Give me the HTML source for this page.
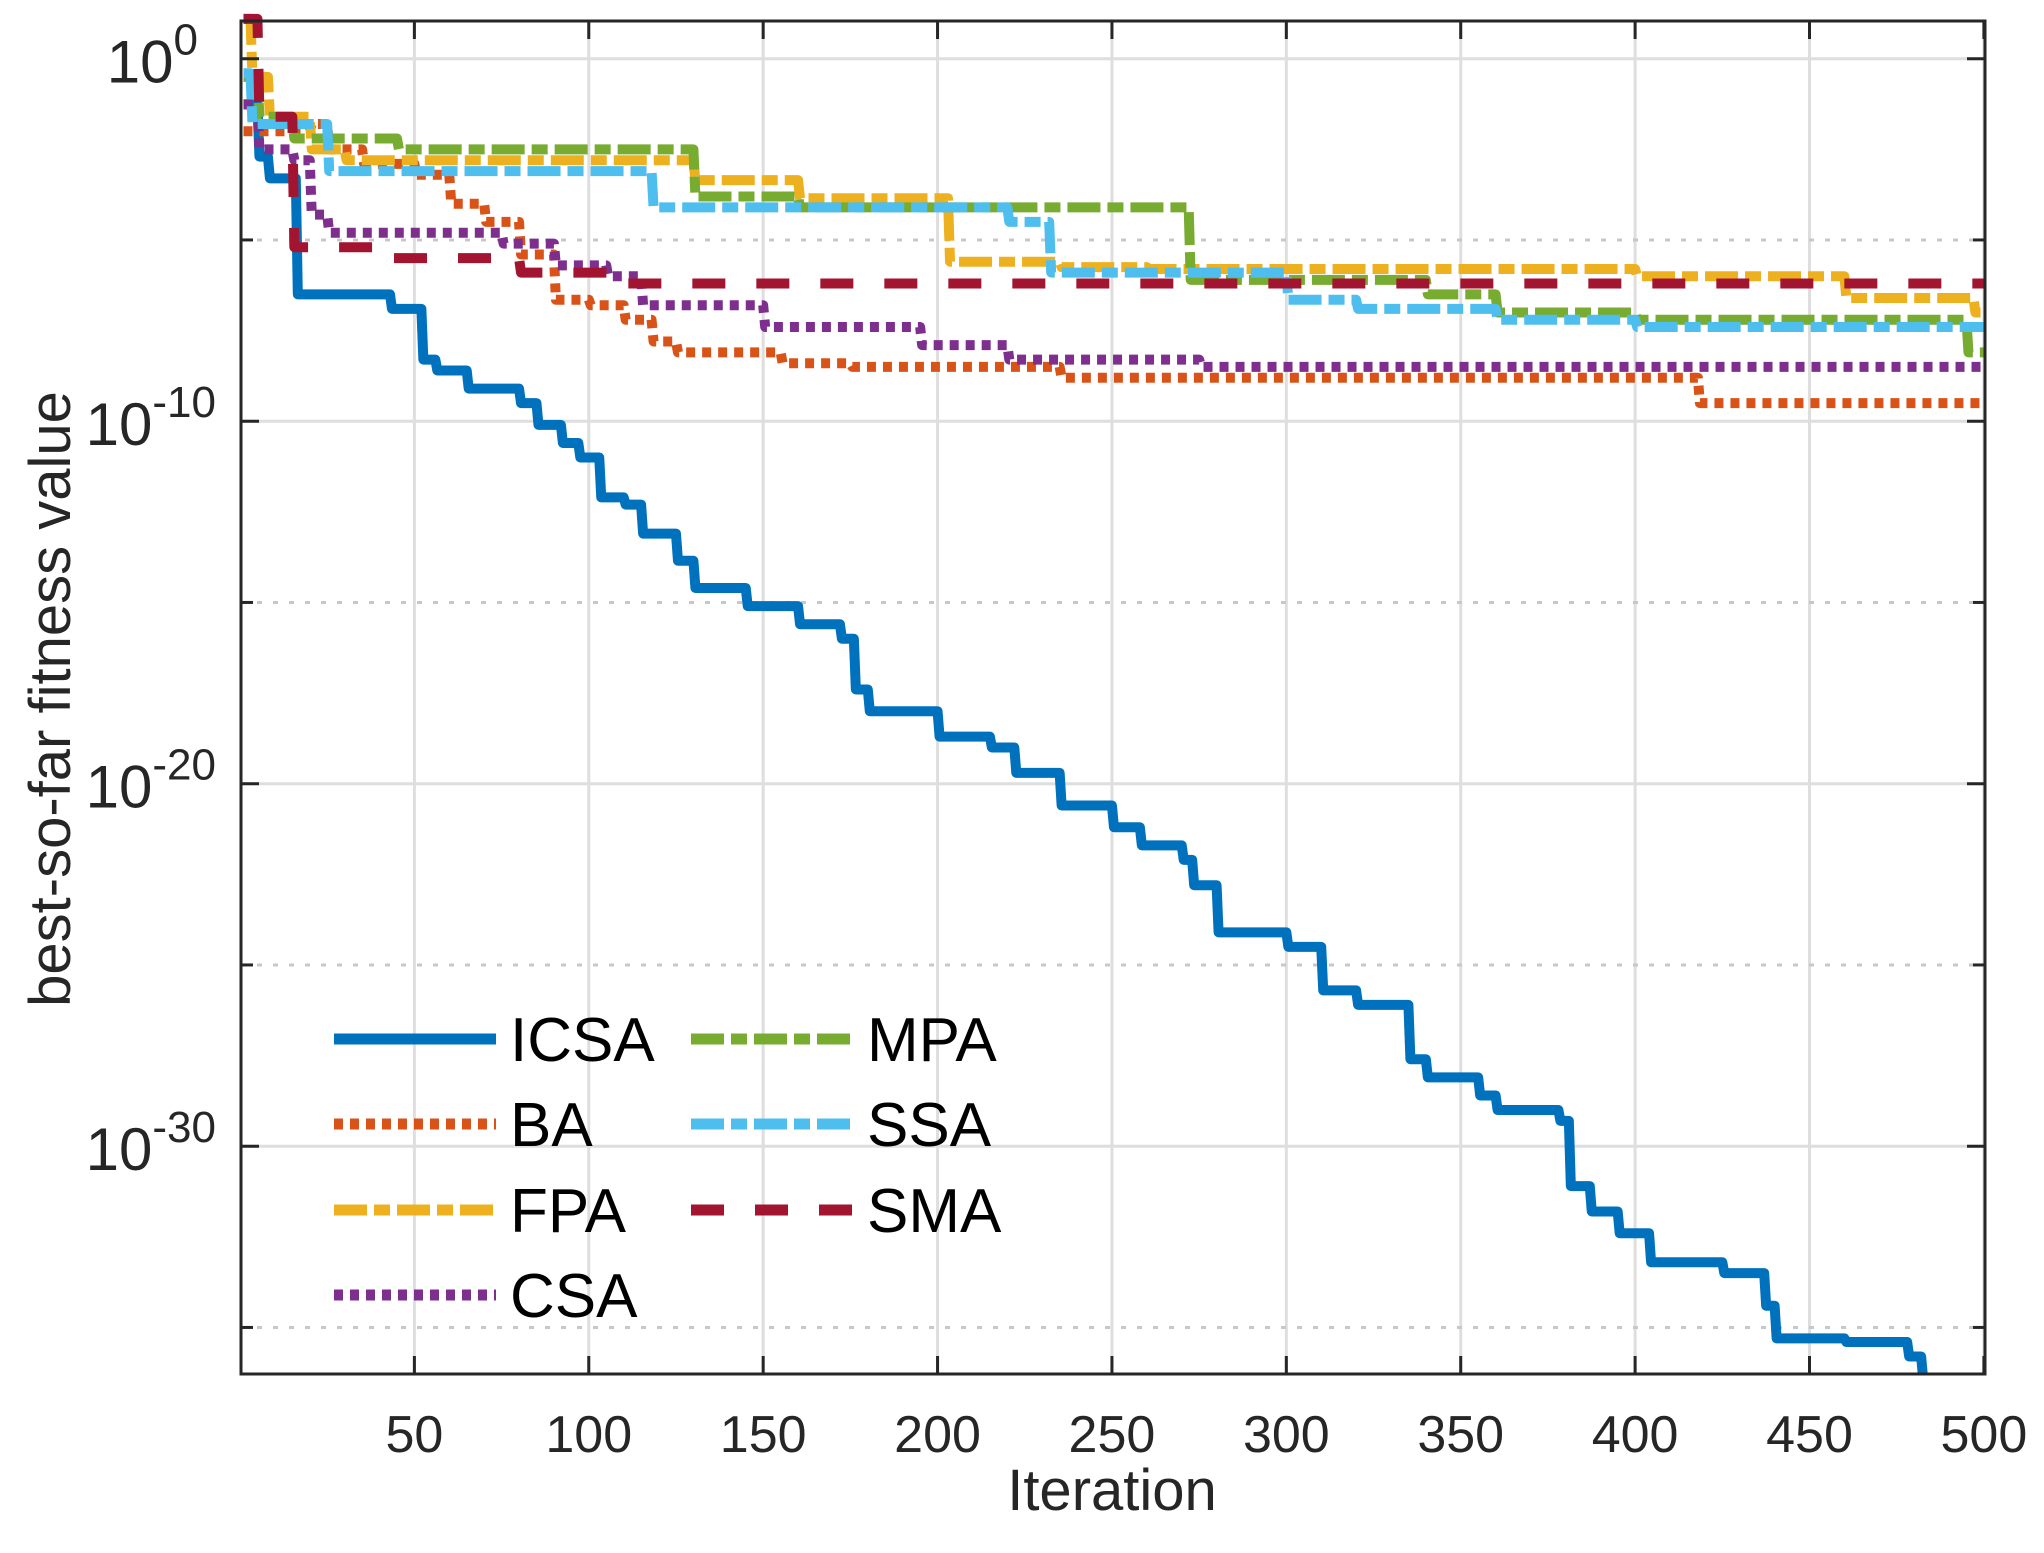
<!DOCTYPE html>
<html><head><meta charset="utf-8"><style>
html,body{margin:0;padding:0;background:#fff}
svg{display:block;font-family:"Liberation Sans",Arial,sans-serif}
</style></head><body>
<svg id="chart" width="2044" height="1553" viewBox="0 0 2044 1553" xmlns="http://www.w3.org/2000/svg">
<rect x="0" y="0" width="2044" height="1553" fill="#fff"/>
<g id="grid"></g>
<g id="series"></g>
<g id="axes"></g>
<g id="legend"></g>
<text x="1112" y="1510" font-size="58" text-anchor="middle" fill="#262626">Iteration</text>
<text transform="translate(70,699) rotate(-90)" font-size="58" text-anchor="middle" fill="#262626">best-so-far fitness value</text>
</svg>
<script>
const xTicks = [50,100,150,200,250,300,350,400,450,500];
const yMajorTicks = [0,-10,-20,-30];
const yMinorTicks = [-5,-15,-25,-35];
const seriesNames = ["ICSA","BA","FPA","CSA","MPA","SSA","SMA"];
// iterations (step changes) and log10 values
const icsaIter = [1,5,8,16,43,52,56,65,80,85,92,97,103,110,115,125,130,145,160,172,176,180,200,215,222,235,250,258,270,273,280,300,310,320,335,340,355,360,378,381,387,395,404,425,437,440,460,478,482];
const icsaVal = [-1.26,-2.7,-3.3,-6.5,-6.9,-8.3,-8.6,-9.1,-9.5,-10.1,-10.6,-11.0,-12.1,-12.3,-13.1,-13.85,-14.6,-15.1,-15.6,-16.0,-17.4,-18.0,-18.7,-19.0,-19.7,-20.6,-21.2,-21.7,-22.1,-22.8,-24.1,-24.5,-25.7,-26.1,-27.6,-28.1,-28.6,-29.0,-29.3,-31.1,-31.8,-32.4,-33.2,-33.5,-34.4,-35.3,-35.4,-35.8,-36.4];
const baIter = [1,20,25,35,50,60,70,80,90,100,110,118,125,155,175,235,418];
const baVal = [-2.0,-1.8,-2.5,-2.9,-3.2,-4.0,-4.5,-5.4,-6.65,-6.8,-7.2,-7.8,-8.1,-8.4,-8.5,-8.8,-9.5];
const fpaIter = [1,3,8,20,30,130,160,203,235,260,400,460,497];
const fpaVal = [1.1,-0.5,-1.6,-2.5,-2.8,-3.35,-3.85,-5.6,-5.75,-5.8,-6.0,-6.6,-7.0];
const csaIter = [1,5,15,20,25,75,90,105,115,150,195,220,275];
const csaVal = [-1.26,-2.5,-2.8,-4.3,-4.8,-5.1,-5.7,-6.0,-6.8,-7.4,-7.9,-8.3,-8.5];
const mpaIter = [1,5,15,45,130,160,272,340,360,400,495];
const mpaVal = [-0.5,-1.6,-2.2,-2.5,-3.8,-4.1,-6.1,-6.5,-7.0,-7.2,-8.1];
const ssaIter = [1,3,25,118,220,232,300,320,360,400];
const ssaVal = [-0.4,-1.8,-3.1,-4.1,-4.5,-5.9,-6.65,-6.9,-7.2,-7.4];
const smaIter = [1,5,15,40,80,110];
const smaVal = [1.1,-1.6,-5.2,-5.5,-5.9,-6.2];

const L=241,R=1985,T=21,B=1374;
const X0=240, XS=(1984-414.5)/450;
const Y0=58.7, YS=36.25;
const xPos = v => X0 + v*XS;
const yPos = v => Y0 - v*YS;
const NS="http://www.w3.org/2000/svg";
function mk(tag, attrs, parent){const e=document.createElementNS(NS,tag);for(const k in attrs)e.setAttribute(k,attrs[k]);parent.appendChild(e);return e;}
const grid=document.getElementById('grid'), axes=document.getElementById('axes'), ser=document.getElementById('series'), leg=document.getElementById('legend');

xTicks.forEach(t=>{
  const x=xPos(t);
  let g=mk('line',{x1:x,x2:x,y1:T,y2:B,stroke:'#dedede','stroke-width':3},grid);
  
  
  let a=mk('line',{x1:x,x2:x,y1:B,y2:B-18,stroke:'#262626','stroke-width':3},axes);
  
  
  let b=mk('line',{x1:x,x2:x,y1:T,y2:T+18,stroke:'#262626','stroke-width':3},axes);
  
  
  let tx=mk('text',{x:x,y:1452,'font-size':52,'text-anchor':'middle',fill:'#262626'},axes);
  tx.textContent=t;
  
  
});
yMinorTicks.forEach(t=>{
  const y=yPos(t);
  let g=mk('line',{x1:L,x2:R,y1:y,y2:y,stroke:'#c8c8c8','stroke-width':3,'stroke-dasharray':'5,11'},grid);
  
  
  let a=mk('line',{x1:L,x2:L+12,y1:y,y2:y,stroke:'#262626','stroke-width':3},axes);
  
  
  let b=mk('line',{x1:R,x2:R-12,y1:y,y2:y,stroke:'#262626','stroke-width':3},axes);
  
  
});
yMajorTicks.forEach(t=>{
  const y=yPos(t);
  let g=mk('line',{x1:L,x2:R,y1:y,y2:y,stroke:'#dedede','stroke-width':3},grid);
  
  
  let a=mk('line',{x1:L,x2:L+18,y1:y,y2:y,stroke:'#262626','stroke-width':3},axes);
  
  
  let b=mk('line',{x1:R,x2:R-18,y1:y,y2:y,stroke:'#262626','stroke-width':3},axes);
  
  
  let tx=mk('text',{x:t===0?198:216,y:y+24,'font-size':60,'text-anchor':'end',fill:'#262626'},axes);
  
  
  tx.textContent='10';
  const sp=mk('tspan',{dy:-28,'font-size':44},tx);
  sp.textContent=String(t);
});
let frame=mk('rect',{x:L,y:T,width:R-L,height:B-T,fill:'none',stroke:'#262626','stroke-width':3},axes);



const defs=mk('defs',{},ser);
const cp=mk('clipPath',{id:'clip'},defs);
mk('rect',{x:L,y:T-8,width:R-L,height:B-T+8},cp);

const styles={
 ICSA:{c:'#0072BD',d:'none'},BA:{c:'#D95319',d:'9,7'},FPA:{c:'#EDB120',d:'33,7,16,7'},
 CSA:{c:'#7E2F8E',d:'9,7'},MPA:{c:'#77AC30',d:'33,7,16,7'},SSA:{c:'#4DBEEE',d:'33,7,16,7'},SMA:{c:'#A2142F',d:'33,31'}};
const data={ICSA:[icsaIter,icsaVal],BA:[baIter,baVal],FPA:[fpaIter,fpaVal],CSA:[csaIter,csaVal],MPA:[mpaIter,mpaVal],SSA:[ssaIter,ssaVal],SMA:[smaIter,smaVal]};
const drawOrder=["ICSA","BA","FPA","CSA","MPA","SSA","SMA"];
drawOrder.forEach(n=>{
  const [it,v]=data[n];
  let d='M'+xPos(it[0])+','+yPos(v[0]);
  for(let i=1;i<it.length;i++){
    d+=' L'+xPos(it[i])+','+yPos(v[i-1])+' L'+(xPos(it[i])+2)+','+yPos(v[i]);
  }
  const last=n==='ICSA'?it[it.length-1]:500;
  d+=' L'+xPos(last)+','+yPos(v[v.length-1]);
  const p=mk('path',{d:d,fill:'none',stroke:styles[n].c,'stroke-width':10,'stroke-dasharray':styles[n].d,'stroke-linejoin':'round','clip-path':'url(#clip)'},ser);
  
  
});

const legPos={ICSA:[334,1039],BA:[334,1124],FPA:[334,1210],CSA:[334,1295],MPA:[691,1039],SSA:[691,1124],SMA:[691,1210]};
seriesNames.forEach(n=>{
  const [x,y]=legPos[n];
  const g=mk('g',{},leg);
  
  
  const ln=mk('line',{x1:x,x2:x+162,y1:y,y2:y,stroke:styles[n].c,'stroke-width':11,'stroke-dasharray':styles[n].d},g);
  
  
  const t=mk('text',{x:x+176,y:y+22,'font-size':62,fill:'#000'},g);
  t.textContent=n;
  
  
});
</script>
</body></html>
